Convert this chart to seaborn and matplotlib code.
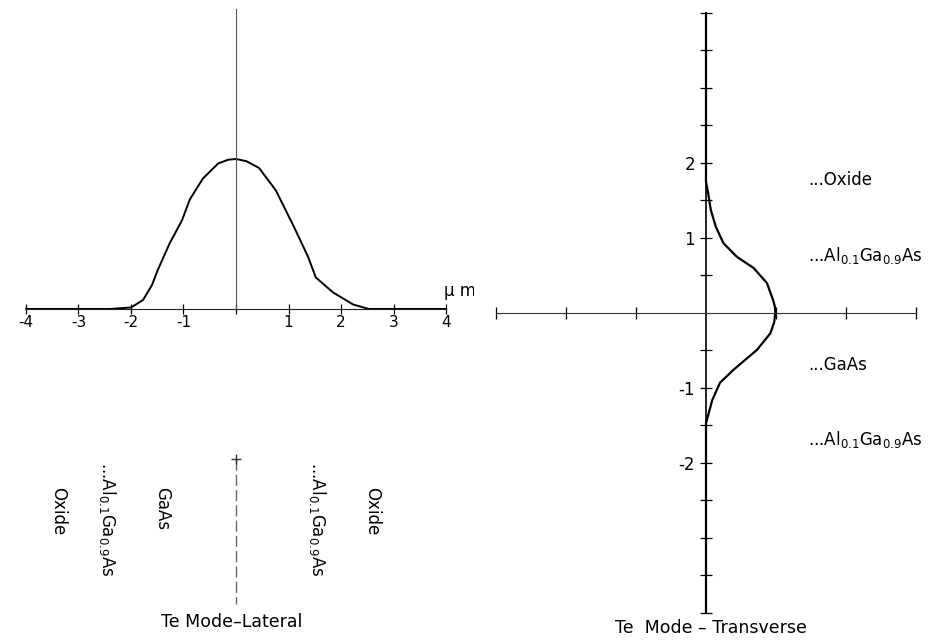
import numpy as np
import pandas as pd
import matplotlib
matplotlib.use('Agg')
import matplotlib.pyplot as plt
import seaborn as sns

# profil lateral (x en um, amplitude normalisee)
lat_x = [-4, -2.4, -2.0, -1.77, -1.6, -1.49, -1.26, -1.03, -0.88, -0.63, -0.34, -0.15, 0,
         0.2, 0.44, 0.76, 1.1, 1.37, 1.52, 1.85, 2.23, 2.53, 4]
lat_amp = [0, 0, 0.01, 0.06, 0.16, 0.26, 0.44, 0.59, 0.73, 0.87, 0.97, 0.995, 1.0,
           0.985, 0.94, 0.79, 0.55, 0.35, 0.21, 0.11, 0.03, 0, 0]
lat_ticks = [-4, -3, -2, -1, 0, 1, 2, 3, 4]
lat_ticklabels = ['-4', '-3', '-2', '-1', '', '1', '2', '3', '4']
lat_layers = ['Oxide', r'...Al$_{0.1}$Ga$_{0.9}$As', 'GaAs', r'...Al$_{0.1}$Ga$_{0.9}$As', 'Oxide']
lat_layer_pos = [-3.39, -2.44, -1.41, 1.56, 2.59]
lat_layer_top = [-1.19, -1.02, -1.19, -1.02, -1.19]
lat_marker_seg = [-1.0, -1.97]

# profil transverse (amplitude en x, position en y en um)
tr_amp = [0, 0, 0.03, 0.07, 0.14, 0.25, 0.44, 0.68, 0.87, 0.96, 0.985, 0.99,
          0.975, 0.92, 0.73, 0.39, 0.2, 0.09, 0, 0]
tr_y = [4, 1.75, 1.6, 1.37, 1.15, 0.93, 0.75, 0.6, 0.4, 0.17, 0.08, 0,
        -0.12, -0.27, -0.49, -0.76, -0.93, -1.16, -1.47, -4]
tr_xticks = [-3, -2, -1, 1, 2, 3]
tr_yticks = [-4, -3.5, -3, -2.5, -2, -1.5, -1, -0.5, 0.5, 1, 1.5, 2, 2.5, 3, 3.5, 4]
tr_labelled = {2: '2', 1: '1', -1: '-1', -2: '-2'}
tr_layers = ['...Oxide', r'...Al$_{0.1}$Ga$_{0.9}$As', '...GaAs', r'...Al$_{0.1}$Ga$_{0.9}$As']
tr_layer_y = [1.77, 0.77, -0.69, -1.69]

sns.set_style('white')
plt.rcParams['font.family'] = ['DejaVu Sans']
plt.rcParams['mathtext.fontset'] = 'dejavusans'
plt.rcParams['text.color'] = 'black'
plt.rcParams['xtick.color'] = 'black'
plt.rcParams['ytick.color'] = 'black'

fig = plt.figure(figsize=(9.48, 6.4), dpi=100)
ax1 = fig.add_axes([0, 0, 0.5, 1])
ax2 = fig.add_axes([0.5, 0, 0.5, 1])

# ---- lateral
df_lat = pd.DataFrame({'x': lat_x, 'amp': lat_amp})
sns.lineplot(data=df_lat, x='x', y='amp', ax=ax1, color='black', lw=1.4,
             sort=False, estimator=None)
ax1.set_xlim(-4.495, 4.533)
ax1.set_ylim(-2.207, 2.06)
for s in ['top', 'right']:
    ax1.spines[s].set_visible(False)
ax1.spines['bottom'].set_position('zero')
ax1.spines['left'].set_position('zero')
ax1.spines['bottom'].set_bounds(-4, 4)
ax1.spines['left'].set_bounds(0, 2.0)
ax1.spines['left'].set_color('#555555')
ax1.spines['bottom'].set_color('#222222')
ax1.set_xticks(lat_ticks)
ax1.set_xticklabels(lat_ticklabels, fontsize=11)
ax1.set_yticks([])
ax1.tick_params(axis='x', direction='inout', length=7, width=0.9, pad=1, bottom=True)
ax1.set_xlabel('')
ax1.set_ylabel('')
ax1.plot([0, 0], lat_marker_seg, color='#666666', lw=1.0, ls=(0, (8, 3)))
ax1.plot([0], [lat_marker_seg[0]], marker='+', color='#333333', ms=7)
ax1.text(4.27, 0.12, 'μ m', fontsize=12, ha='center', va='center')
for name, xp, yt in zip(lat_layers, lat_layer_pos, lat_layer_top):
    ax1.text(xp, yt, name, rotation=-90, ha='center', va='top', fontsize=12)
ax1.text(-0.08, -2.09, 'Te Mode–Lateral', ha='center', va='center', fontsize=12.5)

# ---- transverse
df_tr = pd.DataFrame({'amp': tr_amp, 'y': tr_y})
sns.lineplot(data=df_tr, x='amp', y='y', ax=ax2, color='black', lw=1.6,
             sort=False, estimator=None)
ax2.set_xlim(-3.314, 3.457)
ax2.set_ylim(-4.36, 4.173)
for s in ['top', 'right']:
    ax2.spines[s].set_visible(False)
ax2.spines['bottom'].set_position('zero')
ax2.spines['left'].set_position('zero')
ax2.spines['bottom'].set_bounds(-3, 3)
ax2.spines['left'].set_bounds(-4, 4)
ax2.spines['bottom'].set_color('#333333')
ax2.spines['left'].set_color('black')
ax2.spines['left'].set_linewidth(1.2)
ax2.set_xticks(tr_xticks)
ax2.set_xticklabels([])
ax2.set_yticks(tr_yticks)
ax2.set_yticklabels([tr_labelled.get(v, '') for v in tr_yticks], fontsize=12)
ax2.tick_params(axis='both', direction='inout', length=8, width=0.9, bottom=True, left=True)
ax2.tick_params(axis='y', pad=4)
ax2.set_xlabel('')
ax2.set_ylabel('')
for name, yp in zip(tr_layers, tr_layer_y):
    ax2.text(1.46, yp, name, ha='left', va='center', fontsize=12)
ax2.text(0.07, -4.2, 'Te  Mode – Transverse', ha='center', va='center', fontsize=12.5)

fig.savefig('out.png', dpi=100)
